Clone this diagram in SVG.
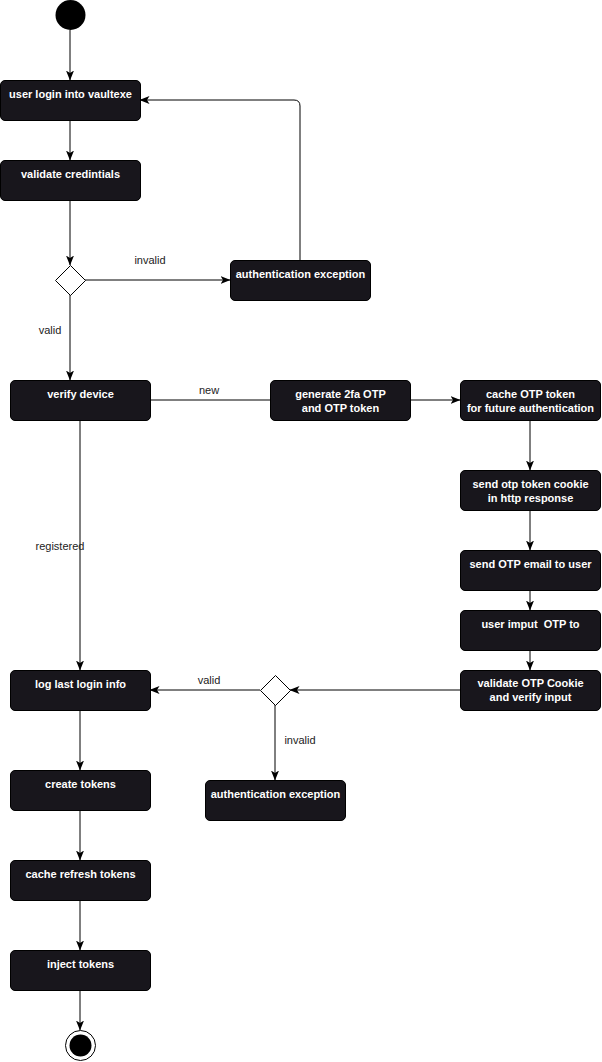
<svg xmlns="http://www.w3.org/2000/svg" width="602" height="1062" viewBox="0 0 602 1062">
<style>
.box{fill:#18161c;stroke:#000;stroke-width:1}
.bt{font-family:"Liberation Sans",Arial,sans-serif;font-size:11px;font-weight:bold;fill:#fff;text-anchor:middle}
.lbl{font-family:"Liberation Sans",Arial,sans-serif;font-size:11px;fill:#222;text-anchor:middle}
.e{fill:none;stroke:#000;stroke-width:1}
.ea{fill:none;stroke:#000;stroke-width:1;marker-end:url(#arr)}
.dia{fill:#fff;stroke:#000;stroke-width:1}
</style>
<defs>
<marker id="arr" viewBox="0 0 10 8" refX="9.5" refY="4" markerWidth="10" markerHeight="8" markerUnits="userSpaceOnUse" orient="auto">
<path d="M0,0 L10,4 L0,8 L2.5,4 z" fill="#000"/>
</marker>
</defs>
<rect width="602" height="1062" fill="#fff"/>
<g id="connectors">
<path class="ea" d="M70,30 V80"/>
<path class="ea" d="M70,120 V160" stroke="#555"/>
<path class="ea" d="M70,200 V265"/>
<path class="ea" d="M85,280 H230"/>
<path class="ea" d="M300,260 V106 Q300,100 294,100 H140"/>
<path class="ea" d="M70,295 V380"/>
<path class="e" d="M150,400 H270"/>
<path class="ea" d="M410,400 H460"/>
<path class="ea" d="M530,420 V470"/>
<path class="ea" d="M530,510 V550"/>
<path class="ea" d="M530,590 V610"/>
<path class="ea" d="M530,650 V670"/>
<path class="ea" d="M460,690 H290"/>
<path class="ea" d="M260,690 H150"/>
<path class="ea" d="M275,705 V780"/>
<path class="ea" d="M80,420 V670"/>
<path class="ea" d="M80,710 V770"/>
<path class="ea" d="M80,810 V860"/>
<path class="ea" d="M80,900 V950"/>
<path class="ea" d="M80,990 V1030"/>
<text class="lbl" x="150" y="264">invalid</text>
<text class="lbl" x="50" y="334">valid</text>
<text class="lbl" x="209" y="394">new</text>
<text class="lbl" x="60" y="550">registered</text>
<text class="lbl" x="209" y="684">valid</text>
<text class="lbl" x="300" y="744">invalid</text>
</g>
<g id="start"><circle cx="70.5" cy="15" r="15" fill="#000"/></g>
<g id="login"><rect class="box" x="0.5" y="80.5" width="140" height="40" rx="4.5"/><text class="bt" x="70.5" y="98">user login into vaultexe</text></g>
<g id="validate"><rect class="box" x="0.5" y="160.5" width="140" height="40" rx="4.5"/><text class="bt" x="70.5" y="178">validate credintials</text></g>
<g id="decision1"><path class="dia" d="M70.5,265.5 L85.5,280.5 L70.5,295.5 L55.5,280.5 z"/></g>
<g id="authex1"><rect class="box" x="230.5" y="260.5" width="140" height="40" rx="4.5"/><text class="bt" x="300.5" y="278">authentication exception</text></g>
<g id="verify"><rect class="box" x="10.5" y="380.5" width="140" height="40" rx="4.5"/><text class="bt" x="80.5" y="398">verify device</text></g>
<g id="generate"><rect class="box" x="270.5" y="380.5" width="140" height="40" rx="4.5"/><text class="bt" x="340.5" y="398">generate 2fa OTP</text><text class="bt" x="340.5" y="412">and OTP token</text></g>
<g id="cache"><rect class="box" x="460.5" y="380.5" width="140" height="40" rx="4.5"/><text class="bt" x="530.5" y="398">cache OTP token</text><text class="bt" x="530.5" y="412">for future authentication</text></g>
<g id="cookie"><rect class="box" x="460.5" y="470.5" width="140" height="40" rx="4.5"/><text class="bt" x="530.5" y="488">send otp token cookie</text><text class="bt" x="530.5" y="502">in http response</text></g>
<g id="email"><rect class="box" x="460.5" y="550.5" width="140" height="40" rx="4.5"/><text class="bt" x="530.5" y="568">send OTP email to user</text></g>
<g id="input"><rect class="box" x="460.5" y="610.5" width="140" height="40" rx="4.5"/><text class="bt" x="530.5" y="628" xml:space="preserve">user imput  OTP to</text></g>
<g id="validateotp"><rect class="box" x="460.5" y="670.5" width="140" height="40" rx="4.5"/><text class="bt" x="530.5" y="687">validate OTP Cookie</text><text class="bt" x="530.5" y="701">and verify input</text></g>
<g id="decision2"><path class="dia" d="M275.5,675.5 L290.5,690.5 L275.5,705.5 L260.5,690.5 z"/></g>
<g id="authex2"><rect class="box" x="205.5" y="780.5" width="140" height="40" rx="4.5"/><text class="bt" x="275.5" y="798">authentication exception</text></g>
<g id="loglast"><rect class="box" x="10.5" y="670.5" width="140" height="40" rx="4.5"/><text class="bt" x="80.5" y="688">log last login info</text></g>
<g id="create"><rect class="box" x="10.5" y="770.5" width="140" height="40" rx="4.5"/><text class="bt" x="80.5" y="788">create tokens</text></g>
<g id="cacherefresh"><rect class="box" x="10.5" y="860.5" width="140" height="40" rx="4.5"/><text class="bt" x="80.5" y="878">cache refresh tokens</text></g>
<g id="inject"><rect class="box" x="10.5" y="950.5" width="140" height="40" rx="4.5"/><text class="bt" x="80.5" y="968">inject tokens</text></g>
<g id="end"><circle cx="80.5" cy="1045.5" r="15" fill="#fff" stroke="#000" stroke-width="1"/><circle cx="80.5" cy="1045.5" r="11" fill="#000"/></g>
</svg>
